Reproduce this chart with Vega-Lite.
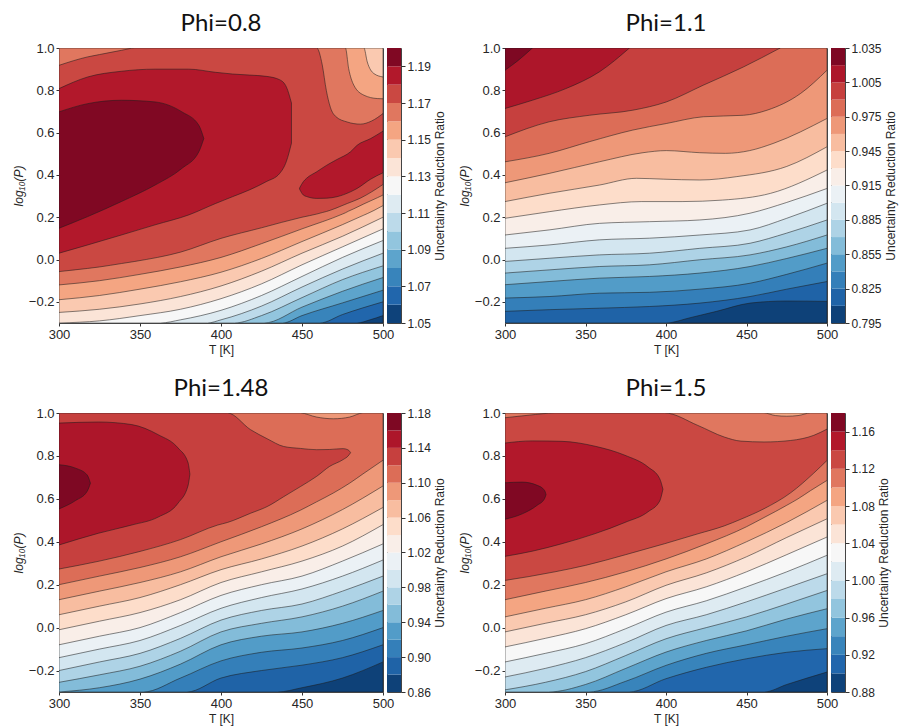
{
"$schema": "https://vega.github.io/schema/vega-lite/v6.json",
"autosize": {"type": "pad"},
"padding": {"left": 11, "top": 11, "right": 2, "bottom": 2},
"background": "white",
"config": {
  "view": {"stroke": "#444444", "strokeWidth": 1},
  "font": "Liberation Sans",
  "axis": {"labelFont": "Liberation Sans", "labelFontSize": 13, "labelColor": "#262626", "tickColor": "#333333", "tickSize": 3, "labelPadding": 2, "titleFont": "Liberation Sans", "titleFontSize": 12, "titleFontWeight": "normal", "titleColor": "#262626", "titlePadding": 3, "grid": false, "domain": false, "labelFlush": false, "labelOverlap": false, "labelBound": false},
  "title": {"font": "Lato", "fontSize": 24, "fontWeight": "normal", "color": "#111111"}
},
"datasets": {
"bands": [
{"phi":"0.8","lo":1.05,"hi":1.06},{"phi":"0.8","lo":1.06,"hi":1.07},{"phi":"0.8","lo":1.07,"hi":1.08},{"phi":"0.8","lo":1.08,"hi":1.09},{"phi":"0.8","lo":1.09,"hi":1.1},{"phi":"0.8","lo":1.1,"hi":1.11},{"phi":"0.8","lo":1.11,"hi":1.12},{"phi":"0.8","lo":1.12,"hi":1.13},{"phi":"0.8","lo":1.13,"hi":1.14},{"phi":"0.8","lo":1.14,"hi":1.15},{"phi":"0.8","lo":1.15,"hi":1.16},{"phi":"0.8","lo":1.16,"hi":1.17},{"phi":"0.8","lo":1.17,"hi":1.18},{"phi":"0.8","lo":1.18,"hi":1.19},{"phi":"0.8","lo":1.19,"hi":1.2},
{"phi":"1.1","lo":0.795,"hi":0.81},{"phi":"1.1","lo":0.81,"hi":0.825},{"phi":"1.1","lo":0.825,"hi":0.84},{"phi":"1.1","lo":0.84,"hi":0.855},{"phi":"1.1","lo":0.855,"hi":0.87},{"phi":"1.1","lo":0.87,"hi":0.885},{"phi":"1.1","lo":0.885,"hi":0.9},{"phi":"1.1","lo":0.9,"hi":0.915},{"phi":"1.1","lo":0.915,"hi":0.93},{"phi":"1.1","lo":0.93,"hi":0.945},{"phi":"1.1","lo":0.945,"hi":0.96},{"phi":"1.1","lo":0.96,"hi":0.975},{"phi":"1.1","lo":0.975,"hi":0.99},{"phi":"1.1","lo":0.99,"hi":1.005},{"phi":"1.1","lo":1.005,"hi":1.02},{"phi":"1.1","lo":1.02,"hi":1.035},
{"phi":"1.48","lo":0.86,"hi":0.88},{"phi":"1.48","lo":0.88,"hi":0.9},{"phi":"1.48","lo":0.9,"hi":0.92},{"phi":"1.48","lo":0.92,"hi":0.94},{"phi":"1.48","lo":0.94,"hi":0.96},{"phi":"1.48","lo":0.96,"hi":0.98},{"phi":"1.48","lo":0.98,"hi":1},{"phi":"1.48","lo":1,"hi":1.02},{"phi":"1.48","lo":1.02,"hi":1.04},{"phi":"1.48","lo":1.04,"hi":1.06},{"phi":"1.48","lo":1.06,"hi":1.08},{"phi":"1.48","lo":1.08,"hi":1.1},{"phi":"1.48","lo":1.1,"hi":1.12},{"phi":"1.48","lo":1.12,"hi":1.14},{"phi":"1.48","lo":1.14,"hi":1.16},{"phi":"1.48","lo":1.16,"hi":1.18},
{"phi":"1.5","lo":0.88,"hi":0.9},{"phi":"1.5","lo":0.9,"hi":0.92},{"phi":"1.5","lo":0.92,"hi":0.94},{"phi":"1.5","lo":0.94,"hi":0.96},{"phi":"1.5","lo":0.96,"hi":0.98},{"phi":"1.5","lo":0.98,"hi":1},{"phi":"1.5","lo":1,"hi":1.02},{"phi":"1.5","lo":1.02,"hi":1.04},{"phi":"1.5","lo":1.04,"hi":1.06},{"phi":"1.5","lo":1.06,"hi":1.08},{"phi":"1.5","lo":1.08,"hi":1.1},{"phi":"1.5","lo":1.1,"hi":1.12},{"phi":"1.5","lo":1.12,"hi":1.14},{"phi":"1.5","lo":1.14,"hi":1.16},{"phi":"1.5","lo":1.16,"hi":1.18}
],
"contours": [
{"phi":"0.8","lvl":1.05,"reg":"08a","T":300,"lo":-0.3,"hi":1},{"phi":"0.8","lvl":1.05,"reg":"08a","T":500,"lo":-0.3,"hi":1},
{"phi":"0.8","lvl":1.06,"reg":"08b","T":300,"lo":-0.3,"hi":1},{"phi":"0.8","lvl":1.06,"reg":"08b","T":484,"lo":-0.3,"hi":1},{"phi":"0.8","lvl":1.06,"reg":"08b","T":492,"lo":-0.285,"hi":1},{"phi":"0.8","lvl":1.06,"reg":"08b","T":500,"lo":-0.265,"hi":1},
{"phi":"0.8","lvl":1.07,"reg":"08c","T":300,"lo":-0.3,"hi":1},{"phi":"0.8","lvl":1.07,"reg":"08c","T":461,"lo":-0.3,"hi":1},{"phi":"0.8","lvl":1.07,"reg":"08c","T":475,"lo":-0.26,"hi":1},{"phi":"0.8","lvl":1.07,"reg":"08c","T":500,"lo":-0.2,"hi":1},
{"phi":"0.8","lvl":1.08,"reg":"08d","T":300,"lo":-0.3,"hi":1},{"phi":"0.8","lvl":1.08,"reg":"08d","T":438,"lo":-0.3,"hi":1},{"phi":"0.8","lvl":1.08,"reg":"08d","T":450,"lo":-0.265,"hi":1},{"phi":"0.8","lvl":1.08,"reg":"08d","T":475,"lo":-0.205,"hi":1},{"phi":"0.8","lvl":1.08,"reg":"08d","T":500,"lo":-0.145,"hi":1},
{"phi":"0.8","lvl":1.09,"reg":"08e","T":300,"lo":-0.3,"hi":1},{"phi":"0.8","lvl":1.09,"reg":"08e","T":426.6,"lo":-0.3,"hi":1},{"phi":"0.8","lvl":1.09,"reg":"08e","T":450,"lo":-0.225,"hi":1},{"phi":"0.8","lvl":1.09,"reg":"08e","T":475,"lo":-0.15,"hi":1},{"phi":"0.8","lvl":1.09,"reg":"08e","T":500,"lo":-0.085,"hi":1},
{"phi":"0.8","lvl":1.1,"reg":"08f","T":300,"lo":-0.3,"hi":1},{"phi":"0.8","lvl":1.1,"reg":"08f","T":408.3,"lo":-0.3,"hi":1},{"phi":"0.8","lvl":1.1,"reg":"08f","T":425,"lo":-0.265,"hi":1},{"phi":"0.8","lvl":1.1,"reg":"08f","T":450,"lo":-0.18,"hi":1},{"phi":"0.8","lvl":1.1,"reg":"08f","T":475,"lo":-0.095,"hi":1},{"phi":"0.8","lvl":1.1,"reg":"08f","T":500,"lo":-0.03,"hi":1},
{"phi":"0.8","lvl":1.11,"reg":"08g","T":300,"lo":-0.3,"hi":1},{"phi":"0.8","lvl":1.11,"reg":"08g","T":391.7,"lo":-0.3,"hi":1},{"phi":"0.8","lvl":1.11,"reg":"08g","T":400,"lo":-0.285,"hi":1},{"phi":"0.8","lvl":1.11,"reg":"08g","T":425,"lo":-0.22,"hi":1},{"phi":"0.8","lvl":1.11,"reg":"08g","T":450,"lo":-0.13,"hi":1},{"phi":"0.8","lvl":1.11,"reg":"08g","T":475,"lo":-0.045,"hi":1},{"phi":"0.8","lvl":1.11,"reg":"08g","T":500,"lo":0.03,"hi":1},
{"phi":"0.8","lvl":1.12,"reg":"08h","T":300,"lo":-0.3,"hi":1},{"phi":"0.8","lvl":1.12,"reg":"08h","T":362.5,"lo":-0.3,"hi":1},{"phi":"0.8","lvl":1.12,"reg":"08h","T":375,"lo":-0.285,"hi":1},{"phi":"0.8","lvl":1.12,"reg":"08h","T":400,"lo":-0.24,"hi":1},{"phi":"0.8","lvl":1.12,"reg":"08h","T":425,"lo":-0.17,"hi":1},{"phi":"0.8","lvl":1.12,"reg":"08h","T":450,"lo":-0.08,"hi":1},{"phi":"0.8","lvl":1.12,"reg":"08h","T":475,"lo":0.01,"hi":1},{"phi":"0.8","lvl":1.12,"reg":"08h","T":500,"lo":0.09,"hi":1},
{"phi":"0.8","lvl":1.13,"reg":"08i","T":300,"lo":-0.3,"hi":1},{"phi":"0.8","lvl":1.13,"reg":"08i","T":325,"lo":-0.29,"hi":1},{"phi":"0.8","lvl":1.13,"reg":"08i","T":350,"lo":-0.265,"hi":1},{"phi":"0.8","lvl":1.13,"reg":"08i","T":375,"lo":-0.235,"hi":1},{"phi":"0.8","lvl":1.13,"reg":"08i","T":400,"lo":-0.185,"hi":1},{"phi":"0.8","lvl":1.13,"reg":"08i","T":425,"lo":-0.115,"hi":1},{"phi":"0.8","lvl":1.13,"reg":"08i","T":450,"lo":-0.025,"hi":1},{"phi":"0.8","lvl":1.13,"reg":"08i","T":475,"lo":0.06,"hi":1},{"phi":"0.8","lvl":1.13,"reg":"08i","T":500,"lo":0.145,"hi":1},
{"phi":"0.8","lvl":1.14,"reg":"08j","T":300,"lo":-0.25,"hi":1},{"phi":"0.8","lvl":1.14,"reg":"08j","T":325,"lo":-0.235,"hi":1},{"phi":"0.8","lvl":1.14,"reg":"08j","T":350,"lo":-0.21,"hi":1},{"phi":"0.8","lvl":1.14,"reg":"08j","T":375,"lo":-0.175,"hi":1},{"phi":"0.8","lvl":1.14,"reg":"08j","T":400,"lo":-0.125,"hi":1},{"phi":"0.8","lvl":1.14,"reg":"08j","T":425,"lo":-0.055,"hi":1},{"phi":"0.8","lvl":1.14,"reg":"08j","T":450,"lo":0.03,"hi":1},{"phi":"0.8","lvl":1.14,"reg":"08j","T":475,"lo":0.11,"hi":1},{"phi":"0.8","lvl":1.14,"reg":"08j","T":500,"lo":0.2,"hi":1},
{"phi":"0.8","lvl":1.15,"reg":"08k","T":300,"lo":-0.19,"hi":1},{"phi":"0.8","lvl":1.15,"reg":"08k","T":325,"lo":-0.17,"hi":1},{"phi":"0.8","lvl":1.15,"reg":"08k","T":350,"lo":-0.14,"hi":1},{"phi":"0.8","lvl":1.15,"reg":"08k","T":375,"lo":-0.105,"hi":1},{"phi":"0.8","lvl":1.15,"reg":"08k","T":400,"lo":-0.06,"hi":1},{"phi":"0.8","lvl":1.15,"reg":"08k","T":425,"lo":0.005,"hi":1},{"phi":"0.8","lvl":1.15,"reg":"08k","T":450,"lo":0.085,"hi":1},{"phi":"0.8","lvl":1.15,"reg":"08k","T":475,"lo":0.165,"hi":1},{"phi":"0.8","lvl":1.15,"reg":"08k","T":488.2,"lo":0.21,"hi":1},{"phi":"0.8","lvl":1.15,"reg":"08k","T":490.3,"lo":0.217,"hi":0.934},{"phi":"0.8","lvl":1.15,"reg":"08k","T":494.4,"lo":0.232,"hi":0.879},{"phi":"0.8","lvl":1.15,"reg":"08k","T":500,"lo":0.255,"hi":0.863},
{"phi":"0.8","lvl":1.16,"reg":"08l","T":300,"lo":-0.12,"hi":1},{"phi":"0.8","lvl":1.16,"reg":"08l","T":325,"lo":-0.1,"hi":1},{"phi":"0.8","lvl":1.16,"reg":"08l","T":350,"lo":-0.07,"hi":1},{"phi":"0.8","lvl":1.16,"reg":"08l","T":375,"lo":-0.035,"hi":1},{"phi":"0.8","lvl":1.16,"reg":"08l","T":400,"lo":0.01,"hi":1},{"phi":"0.8","lvl":1.16,"reg":"08l","T":425,"lo":0.075,"hi":1},{"phi":"0.8","lvl":1.16,"reg":"08l","T":450,"lo":0.145,"hi":1},{"phi":"0.8","lvl":1.16,"reg":"08l","T":475,"lo":0.215,"hi":1},{"phi":"0.8","lvl":1.16,"reg":"08l","T":476.8,"lo":0.221,"hi":1},{"phi":"0.8","lvl":1.16,"reg":"08l","T":478.8,"lo":0.229,"hi":0.903},{"phi":"0.8","lvl":1.16,"reg":"08l","T":482,"lo":0.24,"hi":0.824},{"phi":"0.8","lvl":1.16,"reg":"08l","T":488.2,"lo":0.263,"hi":0.777},{"phi":"0.8","lvl":1.16,"reg":"08l","T":496.5,"lo":0.292,"hi":0.761},{"phi":"0.8","lvl":1.16,"reg":"08l","T":500,"lo":0.305,"hi":0.76},
{"phi":"0.8","lvl":1.17,"reg":"08m","T":300,"lo":-0.057,"hi":0.918},{"phi":"0.8","lvl":1.17,"reg":"08m","T":317.7,"lo":-0.042,"hi":0.958},{"phi":"0.8","lvl":1.17,"reg":"08m","T":325,"lo":-0.035,"hi":0.969},{"phi":"0.8","lvl":1.17,"reg":"08m","T":338.5,"lo":-0.019,"hi":0.989},{"phi":"0.8","lvl":1.17,"reg":"08m","T":346.8,"lo":-0.009,"hi":1},{"phi":"0.8","lvl":1.17,"reg":"08m","T":375,"lo":0.035,"hi":1},{"phi":"0.8","lvl":1.17,"reg":"08m","T":400,"lo":0.1,"hi":1},{"phi":"0.8","lvl":1.17,"reg":"08m","T":425,"lo":0.15,"hi":1},{"phi":"0.8","lvl":1.17,"reg":"08m","T":450,"lo":0.2,"hi":1},{"phi":"0.8","lvl":1.17,"reg":"08m","T":459.1,"lo":0.215,"hi":1},{"phi":"0.8","lvl":1.17,"reg":"08m","T":462.5,"lo":0.222,"hi":0.92},{"phi":"0.8","lvl":1.17,"reg":"08m","T":465,"lo":0.227,"hi":0.8},{"phi":"0.8","lvl":1.17,"reg":"08m","T":467.5,"lo":0.233,"hi":0.72},{"phi":"0.8","lvl":1.17,"reg":"08m","T":471,"lo":0.243,"hi":0.675},{"phi":"0.8","lvl":1.17,"reg":"08m","T":478,"lo":0.265,"hi":0.65},{"phi":"0.8","lvl":1.17,"reg":"08m","T":486,"lo":0.29,"hi":0.64},{"phi":"0.8","lvl":1.17,"reg":"08m","T":493,"lo":0.32,"hi":0.655},{"phi":"0.8","lvl":1.17,"reg":"08m","T":500,"lo":0.355,"hi":0.69},
{"phi":"0.8","lvl":1.18,"reg":"08n","T":300,"lo":0.03,"hi":0.808},{"phi":"0.8","lvl":1.18,"reg":"08n","T":317.7,"lo":0.069,"hi":0.863},{"phi":"0.8","lvl":1.18,"reg":"08n","T":338.5,"lo":0.116,"hi":0.89},{"phi":"0.8","lvl":1.18,"reg":"08n","T":359.3,"lo":0.164,"hi":0.9},{"phi":"0.8","lvl":1.18,"reg":"08n","T":380.1,"lo":0.211,"hi":0.9},{"phi":"0.8","lvl":1.18,"reg":"08n","T":396.7,"lo":0.265,"hi":0.885},{"phi":"0.8","lvl":1.18,"reg":"08n","T":407.1,"lo":0.297,"hi":0.877},{"phi":"0.8","lvl":1.18,"reg":"08n","T":417.5,"lo":0.329,"hi":0.872},{"phi":"0.8","lvl":1.18,"reg":"08n","T":427.9,"lo":0.368,"hi":0.866},{"phi":"0.8","lvl":1.18,"reg":"08n","T":436.2,"lo":0.407,"hi":0.85},{"phi":"0.8","lvl":1.18,"reg":"08n","T":440.4,"lo":0.465,"hi":0.815},{"phi":"0.8","lvl":1.18,"reg":"08n","T":443.5,"lo":0.55,"hi":0.74},
{"phi":"0.8","lvl":1.18,"reg":"08o","T":448.5,"lo":0.333,"hi":0.338},{"phi":"0.8","lvl":1.18,"reg":"08o","T":450.8,"lo":0.305,"hi":0.368},{"phi":"0.8","lvl":1.18,"reg":"08o","T":452.8,"lo":0.298,"hi":0.384},{"phi":"0.8","lvl":1.18,"reg":"08o","T":459.1,"lo":0.289,"hi":0.415},{"phi":"0.8","lvl":1.18,"reg":"08o","T":465.3,"lo":0.29,"hi":0.446},{"phi":"0.8","lvl":1.18,"reg":"08o","T":471.6,"lo":0.297,"hi":0.473},{"phi":"0.8","lvl":1.18,"reg":"08o","T":479.9,"lo":0.32,"hi":0.509},{"phi":"0.8","lvl":1.18,"reg":"08o","T":484,"lo":0.336,"hi":0.54},{"phi":"0.8","lvl":1.18,"reg":"08o","T":492.4,"lo":0.38,"hi":0.572},{"phi":"0.8","lvl":1.18,"reg":"08o","T":500,"lo":0.41,"hi":0.607},
{"phi":"0.8","lvl":1.19,"reg":"08p","T":300,"lo":0.148,"hi":0.698},{"phi":"0.8","lvl":1.19,"reg":"08p","T":317.7,"lo":0.203,"hi":0.737},{"phi":"0.8","lvl":1.19,"reg":"08p","T":338.5,"lo":0.274,"hi":0.753},{"phi":"0.8","lvl":1.19,"reg":"08p","T":359.3,"lo":0.352,"hi":0.745},{"phi":"0.8","lvl":1.19,"reg":"08p","T":375.9,"lo":0.431,"hi":0.698},{"phi":"0.8","lvl":1.19,"reg":"08p","T":386.3,"lo":0.509,"hi":0.635},{"phi":"0.8","lvl":1.19,"reg":"08p","T":389.4,"lo":0.572,"hi":0.572},

{"phi":"1.1","lvl":0.795,"reg":"11a","T":300,"lo":-0.3,"hi":1},{"phi":"1.1","lvl":0.795,"reg":"11a","T":500,"lo":-0.3,"hi":1},
{"phi":"1.1","lvl":0.81,"reg":"11b","T":300,"lo":-0.3,"hi":1},{"phi":"1.1","lvl":0.81,"reg":"11b","T":400,"lo":-0.3,"hi":1},{"phi":"1.1","lvl":0.81,"reg":"11b","T":415,"lo":-0.275,"hi":1},{"phi":"1.1","lvl":0.81,"reg":"11b","T":431.4,"lo":-0.245,"hi":1},{"phi":"1.1","lvl":0.81,"reg":"11b","T":452.2,"lo":-0.206,"hi":1},{"phi":"1.1","lvl":0.81,"reg":"11b","T":475,"lo":-0.196,"hi":1},{"phi":"1.1","lvl":0.81,"reg":"11b","T":500,"lo":-0.198,"hi":1},
{"phi":"1.1","lvl":0.825,"reg":"11c","T":300,"lo":-0.245,"hi":1},{"phi":"1.1","lvl":0.825,"reg":"11c","T":327.4,"lo":-0.237,"hi":1},{"phi":"1.1","lvl":0.825,"reg":"11c","T":358.6,"lo":-0.23,"hi":1},{"phi":"1.1","lvl":0.825,"reg":"11c","T":389.8,"lo":-0.222,"hi":1},{"phi":"1.1","lvl":0.825,"reg":"11c","T":421,"lo":-0.206,"hi":1},{"phi":"1.1","lvl":0.825,"reg":"11c","T":452.2,"lo":-0.175,"hi":1},{"phi":"1.1","lvl":0.825,"reg":"11c","T":475,"lo":-0.14,"hi":1},{"phi":"1.1","lvl":0.825,"reg":"11c","T":500,"lo":-0.104,"hi":1},
{"phi":"1.1","lvl":0.84,"reg":"11d","T":300,"lo":-0.182,"hi":1},{"phi":"1.1","lvl":0.84,"reg":"11d","T":327.4,"lo":-0.175,"hi":1},{"phi":"1.1","lvl":0.84,"reg":"11d","T":358.6,"lo":-0.159,"hi":1},{"phi":"1.1","lvl":0.84,"reg":"11d","T":389.8,"lo":-0.155,"hi":1},{"phi":"1.1","lvl":0.84,"reg":"11d","T":421,"lo":-0.14,"hi":1},{"phi":"1.1","lvl":0.84,"reg":"11d","T":452.2,"lo":-0.112,"hi":1},{"phi":"1.1","lvl":0.84,"reg":"11d","T":475,"lo":-0.07,"hi":1},{"phi":"1.1","lvl":0.84,"reg":"11d","T":500,"lo":-0.017,"hi":1},
{"phi":"1.1","lvl":0.855,"reg":"11e","T":300,"lo":-0.119,"hi":1},{"phi":"1.1","lvl":0.855,"reg":"11e","T":327.4,"lo":-0.104,"hi":1},{"phi":"1.1","lvl":0.855,"reg":"11e","T":358.6,"lo":-0.088,"hi":1},{"phi":"1.1","lvl":0.855,"reg":"11e","T":389.8,"lo":-0.08,"hi":1},{"phi":"1.1","lvl":0.855,"reg":"11e","T":421,"lo":-0.064,"hi":1},{"phi":"1.1","lvl":0.855,"reg":"11e","T":452.2,"lo":-0.033,"hi":1},{"phi":"1.1","lvl":0.855,"reg":"11e","T":475,"lo":0.005,"hi":1},{"phi":"1.1","lvl":0.855,"reg":"11e","T":500,"lo":0.053,"hi":1},
{"phi":"1.1","lvl":0.87,"reg":"11f","T":300,"lo":-0.064,"hi":1},{"phi":"1.1","lvl":0.87,"reg":"11f","T":327.4,"lo":-0.049,"hi":1},{"phi":"1.1","lvl":0.87,"reg":"11f","T":358.6,"lo":-0.033,"hi":1},{"phi":"1.1","lvl":0.87,"reg":"11f","T":389.8,"lo":-0.025,"hi":1},{"phi":"1.1","lvl":0.87,"reg":"11f","T":421,"lo":-0.001,"hi":1},{"phi":"1.1","lvl":0.87,"reg":"11f","T":452.2,"lo":0.022,"hi":1},{"phi":"1.1","lvl":0.87,"reg":"11f","T":475,"lo":0.06,"hi":1},{"phi":"1.1","lvl":0.87,"reg":"11f","T":500,"lo":0.116,"hi":1},
{"phi":"1.1","lvl":0.885,"reg":"11g","T":300,"lo":-0.009,"hi":1},{"phi":"1.1","lvl":0.885,"reg":"11g","T":327.4,"lo":0.006,"hi":1},{"phi":"1.1","lvl":0.885,"reg":"11g","T":358.6,"lo":0.022,"hi":1},{"phi":"1.1","lvl":0.885,"reg":"11g","T":389.8,"lo":0.03,"hi":1},{"phi":"1.1","lvl":0.885,"reg":"11g","T":421,"lo":0.053,"hi":1},{"phi":"1.1","lvl":0.885,"reg":"11g","T":452.2,"lo":0.077,"hi":1},{"phi":"1.1","lvl":0.885,"reg":"11g","T":475,"lo":0.125,"hi":1},{"phi":"1.1","lvl":0.885,"reg":"11g","T":500,"lo":0.187,"hi":1},
{"phi":"1.1","lvl":0.9,"reg":"11h","T":300,"lo":0.053,"hi":1},{"phi":"1.1","lvl":0.9,"reg":"11h","T":327.4,"lo":0.069,"hi":1},{"phi":"1.1","lvl":0.9,"reg":"11h","T":358.6,"lo":0.093,"hi":1},{"phi":"1.1","lvl":0.9,"reg":"11h","T":389.8,"lo":0.101,"hi":1},{"phi":"1.1","lvl":0.9,"reg":"11h","T":421,"lo":0.116,"hi":1},{"phi":"1.1","lvl":0.9,"reg":"11h","T":452.2,"lo":0.14,"hi":1},{"phi":"1.1","lvl":0.9,"reg":"11h","T":475,"lo":0.195,"hi":1},{"phi":"1.1","lvl":0.9,"reg":"11h","T":500,"lo":0.266,"hi":1},
{"phi":"1.1","lvl":0.915,"reg":"11i","T":300,"lo":0.116,"hi":1},{"phi":"1.1","lvl":0.915,"reg":"11i","T":327.4,"lo":0.14,"hi":1},{"phi":"1.1","lvl":0.915,"reg":"11i","T":358.6,"lo":0.171,"hi":1},{"phi":"1.1","lvl":0.915,"reg":"11i","T":389.8,"lo":0.179,"hi":1},{"phi":"1.1","lvl":0.915,"reg":"11i","T":421,"lo":0.187,"hi":1},{"phi":"1.1","lvl":0.915,"reg":"11i","T":452.2,"lo":0.219,"hi":1},{"phi":"1.1","lvl":0.915,"reg":"11i","T":475,"lo":0.27,"hi":1},{"phi":"1.1","lvl":0.915,"reg":"11i","T":500,"lo":0.336,"hi":1},
{"phi":"1.1","lvl":0.93,"reg":"11j","T":300,"lo":0.195,"hi":1},{"phi":"1.1","lvl":0.93,"reg":"11j","T":327.4,"lo":0.226,"hi":1},{"phi":"1.1","lvl":0.93,"reg":"11j","T":358.6,"lo":0.258,"hi":1},{"phi":"1.1","lvl":0.93,"reg":"11j","T":385,"lo":0.274,"hi":1},{"phi":"1.1","lvl":0.93,"reg":"11j","T":410,"lo":0.274,"hi":1},{"phi":"1.1","lvl":0.93,"reg":"11j","T":435,"lo":0.281,"hi":1},{"phi":"1.1","lvl":0.93,"reg":"11j","T":465,"lo":0.313,"hi":1},{"phi":"1.1","lvl":0.93,"reg":"11j","T":500,"lo":0.423,"hi":1},
{"phi":"1.1","lvl":0.945,"reg":"11k","T":300,"lo":0.274,"hi":1},{"phi":"1.1","lvl":0.945,"reg":"11k","T":327.4,"lo":0.313,"hi":1},{"phi":"1.1","lvl":0.945,"reg":"11k","T":358.6,"lo":0.352,"hi":1},{"phi":"1.1","lvl":0.945,"reg":"11k","T":381.7,"lo":0.384,"hi":1},{"phi":"1.1","lvl":0.945,"reg":"11k","T":398.3,"lo":0.38,"hi":1},{"phi":"1.1","lvl":0.945,"reg":"11k","T":421,"lo":0.376,"hi":1},{"phi":"1.1","lvl":0.945,"reg":"11k","T":444,"lo":0.392,"hi":1},{"phi":"1.1","lvl":0.945,"reg":"11k","T":475,"lo":0.44,"hi":1},{"phi":"1.1","lvl":0.945,"reg":"11k","T":500,"lo":0.533,"hi":1},
{"phi":"1.1","lvl":0.96,"reg":"11l","T":300,"lo":0.363,"hi":1},{"phi":"1.1","lvl":0.96,"reg":"11l","T":327.4,"lo":0.407,"hi":1},{"phi":"1.1","lvl":0.96,"reg":"11l","T":358.6,"lo":0.462,"hi":1},{"phi":"1.1","lvl":0.96,"reg":"11l","T":385.7,"lo":0.505,"hi":1},{"phi":"1.1","lvl":0.96,"reg":"11l","T":400.2,"lo":0.515,"hi":1},{"phi":"1.1","lvl":0.96,"reg":"11l","T":421,"lo":0.505,"hi":1},{"phi":"1.1","lvl":0.96,"reg":"11l","T":437,"lo":0.502,"hi":1},{"phi":"1.1","lvl":0.96,"reg":"11l","T":452,"lo":0.515,"hi":1},{"phi":"1.1","lvl":0.96,"reg":"11l","T":467,"lo":0.55,"hi":1},{"phi":"1.1","lvl":0.96,"reg":"11l","T":500,"lo":0.667,"hi":1},
{"phi":"1.1","lvl":0.975,"reg":"11m","T":300,"lo":0.462,"hi":1},{"phi":"1.1","lvl":0.975,"reg":"11m","T":327.4,"lo":0.502,"hi":1},{"phi":"1.1","lvl":0.975,"reg":"11m","T":352.4,"lo":0.557,"hi":1},{"phi":"1.1","lvl":0.975,"reg":"11m","T":379.4,"lo":0.612,"hi":1},{"phi":"1.1","lvl":0.975,"reg":"11m","T":400.2,"lo":0.643,"hi":1},{"phi":"1.1","lvl":0.975,"reg":"11m","T":423.3,"lo":0.675,"hi":1},{"phi":"1.1","lvl":0.975,"reg":"11m","T":448.2,"lo":0.682,"hi":1},{"phi":"1.1","lvl":0.975,"reg":"11m","T":462.8,"lo":0.706,"hi":1},{"phi":"1.1","lvl":0.975,"reg":"11m","T":483.6,"lo":0.785,"hi":1},{"phi":"1.1","lvl":0.975,"reg":"11m","T":500,"lo":0.895,"hi":1},
{"phi":"1.1","lvl":0.99,"reg":"11n","T":300,"lo":0.58,"hi":1},{"phi":"1.1","lvl":0.99,"reg":"11n","T":327.4,"lo":0.651,"hi":1},{"phi":"1.1","lvl":0.99,"reg":"11n","T":352.4,"lo":0.682,"hi":1},{"phi":"1.1","lvl":0.99,"reg":"11n","T":379.4,"lo":0.706,"hi":1},{"phi":"1.1","lvl":0.99,"reg":"11n","T":400.2,"lo":0.745,"hi":1},{"phi":"1.1","lvl":0.99,"reg":"11n","T":423.1,"lo":0.824,"hi":1},{"phi":"1.1","lvl":0.99,"reg":"11n","T":448,"lo":0.91,"hi":1},{"phi":"1.1","lvl":0.99,"reg":"11n","T":470.9,"lo":1,"hi":1},
{"phi":"1.1","lvl":1.005,"reg":"11o","T":300,"lo":0.714,"hi":1},{"phi":"1.1","lvl":1.005,"reg":"11o","T":317,"lo":0.753,"hi":1},{"phi":"1.1","lvl":1.005,"reg":"11o","T":337.8,"lo":0.808,"hi":1},{"phi":"1.1","lvl":1.005,"reg":"11o","T":358.6,"lo":0.887,"hi":1},{"phi":"1.1","lvl":1.005,"reg":"11o","T":377.3,"lo":1,"hi":1},
{"phi":"1.1","lvl":1.02,"reg":"11p","T":300,"lo":0.895,"hi":1},{"phi":"1.1","lvl":1.02,"reg":"11p","T":308,"lo":0.94,"hi":1},{"phi":"1.1","lvl":1.02,"reg":"11p","T":317,"lo":1,"hi":1},

{"phi":"1.48","lvl":0.86,"reg":"48a","T":300,"lo":-0.3,"hi":1},{"phi":"1.48","lvl":0.86,"reg":"48a","T":500,"lo":-0.3,"hi":1},
{"phi":"1.48","lvl":0.88,"reg":"48b","T":300,"lo":-0.3,"hi":1},{"phi":"1.48","lvl":0.88,"reg":"48b","T":435,"lo":-0.3,"hi":1},{"phi":"1.48","lvl":0.88,"reg":"48b","T":450,"lo":-0.28,"hi":1},{"phi":"1.48","lvl":0.88,"reg":"48b","T":475,"lo":-0.235,"hi":1},{"phi":"1.48","lvl":0.88,"reg":"48b","T":500,"lo":-0.16,"hi":1},
{"phi":"1.48","lvl":0.9,"reg":"48c","T":300,"lo":-0.3,"hi":1},{"phi":"1.48","lvl":0.9,"reg":"48c","T":379,"lo":-0.3,"hi":1},{"phi":"1.48","lvl":0.9,"reg":"48c","T":400,"lo":-0.235,"hi":1},{"phi":"1.48","lvl":0.9,"reg":"48c","T":425,"lo":-0.2,"hi":1},{"phi":"1.48","lvl":0.9,"reg":"48c","T":450,"lo":-0.175,"hi":1},{"phi":"1.48","lvl":0.9,"reg":"48c","T":475,"lo":-0.14,"hi":1},{"phi":"1.48","lvl":0.9,"reg":"48c","T":500,"lo":-0.08,"hi":1},
{"phi":"1.48","lvl":0.92,"reg":"48d","T":300,"lo":-0.3,"hi":1},{"phi":"1.48","lvl":0.92,"reg":"48d","T":352,"lo":-0.3,"hi":1},{"phi":"1.48","lvl":0.92,"reg":"48d","T":375,"lo":-0.235,"hi":1},{"phi":"1.48","lvl":0.92,"reg":"48d","T":400,"lo":-0.155,"hi":1},{"phi":"1.48","lvl":0.92,"reg":"48d","T":425,"lo":-0.115,"hi":1},{"phi":"1.48","lvl":0.92,"reg":"48d","T":450,"lo":-0.095,"hi":1},{"phi":"1.48","lvl":0.92,"reg":"48d","T":475,"lo":-0.06,"hi":1},{"phi":"1.48","lvl":0.92,"reg":"48d","T":500,"lo":0,"hi":1},
{"phi":"1.48","lvl":0.94,"reg":"48e","T":300,"lo":-0.3,"hi":1},{"phi":"1.48","lvl":0.94,"reg":"48e","T":325,"lo":-0.28,"hi":1},{"phi":"1.48","lvl":0.94,"reg":"48e","T":350,"lo":-0.24,"hi":1},{"phi":"1.48","lvl":0.94,"reg":"48e","T":375,"lo":-0.17,"hi":1},{"phi":"1.48","lvl":0.94,"reg":"48e","T":400,"lo":-0.08,"hi":1},{"phi":"1.48","lvl":0.94,"reg":"48e","T":425,"lo":-0.04,"hi":1},{"phi":"1.48","lvl":0.94,"reg":"48e","T":450,"lo":-0.02,"hi":1},{"phi":"1.48","lvl":0.94,"reg":"48e","T":475,"lo":0.02,"hi":1},{"phi":"1.48","lvl":0.94,"reg":"48e","T":500,"lo":0.08,"hi":1},
{"phi":"1.48","lvl":0.96,"reg":"48f","T":300,"lo":-0.255,"hi":1},{"phi":"1.48","lvl":0.96,"reg":"48f","T":325,"lo":-0.22,"hi":1},{"phi":"1.48","lvl":0.96,"reg":"48f","T":350,"lo":-0.18,"hi":1},{"phi":"1.48","lvl":0.96,"reg":"48f","T":375,"lo":-0.11,"hi":1},{"phi":"1.48","lvl":0.96,"reg":"48f","T":400,"lo":-0.02,"hi":1},{"phi":"1.48","lvl":0.96,"reg":"48f","T":425,"lo":0.02,"hi":1},{"phi":"1.48","lvl":0.96,"reg":"48f","T":450,"lo":0.05,"hi":1},{"phi":"1.48","lvl":0.96,"reg":"48f","T":475,"lo":0.1,"hi":1},{"phi":"1.48","lvl":0.96,"reg":"48f","T":500,"lo":0.17,"hi":1},
{"phi":"1.48","lvl":0.98,"reg":"48g","T":300,"lo":-0.2,"hi":1},{"phi":"1.48","lvl":0.98,"reg":"48g","T":325,"lo":-0.16,"hi":1},{"phi":"1.48","lvl":0.98,"reg":"48g","T":350,"lo":-0.12,"hi":1},{"phi":"1.48","lvl":0.98,"reg":"48g","T":375,"lo":-0.05,"hi":1},{"phi":"1.48","lvl":0.98,"reg":"48g","T":400,"lo":0.035,"hi":1},{"phi":"1.48","lvl":0.98,"reg":"48g","T":425,"lo":0.08,"hi":1},{"phi":"1.48","lvl":0.98,"reg":"48g","T":450,"lo":0.11,"hi":1},{"phi":"1.48","lvl":0.98,"reg":"48g","T":475,"lo":0.17,"hi":1},{"phi":"1.48","lvl":0.98,"reg":"48g","T":500,"lo":0.24,"hi":1},
{"phi":"1.48","lvl":1,"reg":"48h","T":300,"lo":-0.14,"hi":1},{"phi":"1.48","lvl":1,"reg":"48h","T":325,"lo":-0.1,"hi":1},{"phi":"1.48","lvl":1,"reg":"48h","T":350,"lo":-0.06,"hi":1},{"phi":"1.48","lvl":1,"reg":"48h","T":375,"lo":0.01,"hi":1},{"phi":"1.48","lvl":1,"reg":"48h","T":400,"lo":0.09,"hi":1},{"phi":"1.48","lvl":1,"reg":"48h","T":425,"lo":0.14,"hi":1},{"phi":"1.48","lvl":1,"reg":"48h","T":450,"lo":0.18,"hi":1},{"phi":"1.48","lvl":1,"reg":"48h","T":475,"lo":0.24,"hi":1},{"phi":"1.48","lvl":1,"reg":"48h","T":500,"lo":0.315,"hi":1},
{"phi":"1.48","lvl":1.02,"reg":"48i","T":300,"lo":-0.08,"hi":1},{"phi":"1.48","lvl":1.02,"reg":"48i","T":325,"lo":-0.04,"hi":1},{"phi":"1.48","lvl":1.02,"reg":"48i","T":350,"lo":0,"hi":1},{"phi":"1.48","lvl":1.02,"reg":"48i","T":375,"lo":0.07,"hi":1},{"phi":"1.48","lvl":1.02,"reg":"48i","T":400,"lo":0.15,"hi":1},{"phi":"1.48","lvl":1.02,"reg":"48i","T":425,"lo":0.2,"hi":1},{"phi":"1.48","lvl":1.02,"reg":"48i","T":450,"lo":0.24,"hi":1},{"phi":"1.48","lvl":1.02,"reg":"48i","T":475,"lo":0.31,"hi":1},{"phi":"1.48","lvl":1.02,"reg":"48i","T":500,"lo":0.39,"hi":1},
{"phi":"1.48","lvl":1.04,"reg":"48j","T":300,"lo":-0.01,"hi":1},{"phi":"1.48","lvl":1.04,"reg":"48j","T":325,"lo":0.03,"hi":1},{"phi":"1.48","lvl":1.04,"reg":"48j","T":350,"lo":0.07,"hi":1},{"phi":"1.48","lvl":1.04,"reg":"48j","T":375,"lo":0.13,"hi":1},{"phi":"1.48","lvl":1.04,"reg":"48j","T":400,"lo":0.21,"hi":1},{"phi":"1.48","lvl":1.04,"reg":"48j","T":425,"lo":0.26,"hi":1},{"phi":"1.48","lvl":1.04,"reg":"48j","T":450,"lo":0.31,"hi":1},{"phi":"1.48","lvl":1.04,"reg":"48j","T":475,"lo":0.38,"hi":1},{"phi":"1.48","lvl":1.04,"reg":"48j","T":500,"lo":0.48,"hi":1},
{"phi":"1.48","lvl":1.06,"reg":"48k","T":300,"lo":0.06,"hi":1},{"phi":"1.48","lvl":1.06,"reg":"48k","T":325,"lo":0.1,"hi":1},{"phi":"1.48","lvl":1.06,"reg":"48k","T":350,"lo":0.14,"hi":1},{"phi":"1.48","lvl":1.06,"reg":"48k","T":375,"lo":0.2,"hi":1},{"phi":"1.48","lvl":1.06,"reg":"48k","T":400,"lo":0.27,"hi":1},{"phi":"1.48","lvl":1.06,"reg":"48k","T":425,"lo":0.32,"hi":1},{"phi":"1.48","lvl":1.06,"reg":"48k","T":450,"lo":0.38,"hi":1},{"phi":"1.48","lvl":1.06,"reg":"48k","T":475,"lo":0.46,"hi":1},{"phi":"1.48","lvl":1.06,"reg":"48k","T":500,"lo":0.56,"hi":1},
{"phi":"1.48","lvl":1.08,"reg":"48l","T":300,"lo":0.13,"hi":1},{"phi":"1.48","lvl":1.08,"reg":"48l","T":325,"lo":0.17,"hi":1},{"phi":"1.48","lvl":1.08,"reg":"48l","T":350,"lo":0.21,"hi":1},{"phi":"1.48","lvl":1.08,"reg":"48l","T":375,"lo":0.26,"hi":1},{"phi":"1.48","lvl":1.08,"reg":"48l","T":400,"lo":0.33,"hi":1},{"phi":"1.48","lvl":1.08,"reg":"48l","T":425,"lo":0.39,"hi":1},{"phi":"1.48","lvl":1.08,"reg":"48l","T":450,"lo":0.46,"hi":1},{"phi":"1.48","lvl":1.08,"reg":"48l","T":475,"lo":0.55,"hi":1},{"phi":"1.48","lvl":1.08,"reg":"48l","T":500,"lo":0.66,"hi":1},
{"phi":"1.48","lvl":1.1,"reg":"48m","T":300,"lo":0.2,"hi":1},{"phi":"1.48","lvl":1.1,"reg":"48m","T":325,"lo":0.24,"hi":1},{"phi":"1.48","lvl":1.1,"reg":"48m","T":350,"lo":0.28,"hi":1},{"phi":"1.48","lvl":1.1,"reg":"48m","T":375,"lo":0.33,"hi":1},{"phi":"1.48","lvl":1.1,"reg":"48m","T":400,"lo":0.4,"hi":1},{"phi":"1.48","lvl":1.1,"reg":"48m","T":425,"lo":0.47,"hi":1},{"phi":"1.48","lvl":1.1,"reg":"48m","T":449,"lo":0.547,"hi":1},{"phi":"1.48","lvl":1.1,"reg":"48m","T":459,"lo":0.586,"hi":0.981},{"phi":"1.48","lvl":1.1,"reg":"48m","T":469.3,"lo":0.627,"hi":0.973},{"phi":"1.48","lvl":1.1,"reg":"48m","T":479.4,"lo":0.673,"hi":0.981},{"phi":"1.48","lvl":1.1,"reg":"48m","T":487.6,"lo":0.716,"hi":1},{"phi":"1.48","lvl":1.1,"reg":"48m","T":500,"lo":0.78,"hi":1},
{"phi":"1.48","lvl":1.12,"reg":"48n","T":300,"lo":0.273,"hi":1},{"phi":"1.48","lvl":1.12,"reg":"48n","T":325,"lo":0.31,"hi":1},{"phi":"1.48","lvl":1.12,"reg":"48n","T":350,"lo":0.355,"hi":1},{"phi":"1.48","lvl":1.12,"reg":"48n","T":375,"lo":0.41,"hi":1},{"phi":"1.48","lvl":1.12,"reg":"48n","T":398,"lo":0.478,"hi":1},{"phi":"1.48","lvl":1.12,"reg":"48n","T":404,"lo":0.49,"hi":1},{"phi":"1.48","lvl":1.12,"reg":"48n","T":418.3,"lo":0.533,"hi":0.922},{"phi":"1.48","lvl":1.12,"reg":"48n","T":428.5,"lo":0.564,"hi":0.88},{"phi":"1.48","lvl":1.12,"reg":"48n","T":438.7,"lo":0.61,"hi":0.844},{"phi":"1.48","lvl":1.12,"reg":"48n","T":449,"lo":0.657,"hi":0.835},{"phi":"1.48","lvl":1.12,"reg":"48n","T":459.1,"lo":0.705,"hi":0.829},{"phi":"1.48","lvl":1.12,"reg":"48n","T":467,"lo":0.751,"hi":0.83},{"phi":"1.48","lvl":1.12,"reg":"48n","T":475.4,"lo":0.783,"hi":0.834},{"phi":"1.48","lvl":1.12,"reg":"48n","T":478.5,"lo":0.8,"hi":0.828},{"phi":"1.48","lvl":1.12,"reg":"48n","T":480,"lo":0.815,"hi":0.815},
{"phi":"1.48","lvl":1.14,"reg":"48o","T":300,"lo":0.385,"hi":0.953},{"phi":"1.48","lvl":1.14,"reg":"48o","T":324.5,"lo":0.44,"hi":0.958},{"phi":"1.48","lvl":1.14,"reg":"48o","T":344.9,"lo":0.478,"hi":0.946},{"phi":"1.48","lvl":1.14,"reg":"48o","T":361.2,"lo":0.515,"hi":0.899},{"phi":"1.48","lvl":1.14,"reg":"48o","T":373.5,"lo":0.58,"hi":0.837},{"phi":"1.48","lvl":1.14,"reg":"48o","T":379.6,"lo":0.66,"hi":0.77},{"phi":"1.48","lvl":1.14,"reg":"48o","T":380.8,"lo":0.715,"hi":0.715},
{"phi":"1.48","lvl":1.16,"reg":"48p","T":300,"lo":0.553,"hi":0.759},{"phi":"1.48","lvl":1.16,"reg":"48p","T":310.2,"lo":0.592,"hi":0.743},{"phi":"1.48","lvl":1.16,"reg":"48p","T":317.3,"lo":0.634,"hi":0.712},{"phi":"1.48","lvl":1.16,"reg":"48p","T":319.4,"lo":0.673,"hi":0.673},

{"phi":"1.5","lvl":0.88,"reg":"50a","T":300,"lo":-0.3,"hi":1},{"phi":"1.5","lvl":0.88,"reg":"50a","T":500,"lo":-0.3,"hi":1},
{"phi":"1.5","lvl":0.9,"reg":"50b","T":300,"lo":-0.3,"hi":1},{"phi":"1.5","lvl":0.9,"reg":"50b","T":461,"lo":-0.3,"hi":1},{"phi":"1.5","lvl":0.9,"reg":"50b","T":475,"lo":-0.265,"hi":1},{"phi":"1.5","lvl":0.9,"reg":"50b","T":500,"lo":-0.207,"hi":1},
{"phi":"1.5","lvl":0.92,"reg":"50c","T":300,"lo":-0.3,"hi":1},{"phi":"1.5","lvl":0.92,"reg":"50c","T":377,"lo":-0.3,"hi":1},{"phi":"1.5","lvl":0.92,"reg":"50c","T":400,"lo":-0.238,"hi":1},{"phi":"1.5","lvl":0.92,"reg":"50c","T":425,"lo":-0.185,"hi":1},{"phi":"1.5","lvl":0.92,"reg":"50c","T":450,"lo":-0.145,"hi":1},{"phi":"1.5","lvl":0.92,"reg":"50c","T":475,"lo":-0.115,"hi":1},{"phi":"1.5","lvl":0.92,"reg":"50c","T":500,"lo":-0.098,"hi":1},
{"phi":"1.5","lvl":0.94,"reg":"50d","T":300,"lo":-0.3,"hi":1},{"phi":"1.5","lvl":0.94,"reg":"50d","T":352,"lo":-0.3,"hi":1},{"phi":"1.5","lvl":0.94,"reg":"50d","T":375,"lo":-0.25,"hi":1},{"phi":"1.5","lvl":0.94,"reg":"50d","T":400,"lo":-0.176,"hi":1},{"phi":"1.5","lvl":0.94,"reg":"50d","T":425,"lo":-0.12,"hi":1},{"phi":"1.5","lvl":0.94,"reg":"50d","T":450,"lo":-0.08,"hi":1},{"phi":"1.5","lvl":0.94,"reg":"50d","T":475,"lo":-0.04,"hi":1},{"phi":"1.5","lvl":0.94,"reg":"50d","T":500,"lo":-0.005,"hi":1},
{"phi":"1.5","lvl":0.96,"reg":"50e","T":300,"lo":-0.3,"hi":1},{"phi":"1.5","lvl":0.96,"reg":"50e","T":327,"lo":-0.3,"hi":1},{"phi":"1.5","lvl":0.96,"reg":"50e","T":350,"lo":-0.265,"hi":1},{"phi":"1.5","lvl":0.96,"reg":"50e","T":375,"lo":-0.19,"hi":1},{"phi":"1.5","lvl":0.96,"reg":"50e","T":400,"lo":-0.114,"hi":1},{"phi":"1.5","lvl":0.96,"reg":"50e","T":425,"lo":-0.06,"hi":1},{"phi":"1.5","lvl":0.96,"reg":"50e","T":450,"lo":-0.015,"hi":1},{"phi":"1.5","lvl":0.96,"reg":"50e","T":475,"lo":0.04,"hi":1},{"phi":"1.5","lvl":0.96,"reg":"50e","T":500,"lo":0.088,"hi":1},
{"phi":"1.5","lvl":0.98,"reg":"50f","T":300,"lo":-0.29,"hi":1},{"phi":"1.5","lvl":0.98,"reg":"50f","T":325,"lo":-0.255,"hi":1},{"phi":"1.5","lvl":0.98,"reg":"50f","T":350,"lo":-0.205,"hi":1},{"phi":"1.5","lvl":0.98,"reg":"50f","T":375,"lo":-0.13,"hi":1},{"phi":"1.5","lvl":0.98,"reg":"50f","T":400,"lo":-0.052,"hi":1},{"phi":"1.5","lvl":0.98,"reg":"50f","T":425,"lo":0,"hi":1},{"phi":"1.5","lvl":0.98,"reg":"50f","T":450,"lo":0.05,"hi":1},{"phi":"1.5","lvl":0.98,"reg":"50f","T":475,"lo":0.11,"hi":1},{"phi":"1.5","lvl":0.98,"reg":"50f","T":500,"lo":0.173,"hi":1},
{"phi":"1.5","lvl":1,"reg":"50g","T":300,"lo":-0.23,"hi":1},{"phi":"1.5","lvl":1,"reg":"50g","T":325,"lo":-0.19,"hi":1},{"phi":"1.5","lvl":1,"reg":"50g","T":350,"lo":-0.14,"hi":1},{"phi":"1.5","lvl":1,"reg":"50g","T":375,"lo":-0.07,"hi":1},{"phi":"1.5","lvl":1,"reg":"50g","T":400,"lo":0.01,"hi":1},{"phi":"1.5","lvl":1,"reg":"50g","T":425,"lo":0.06,"hi":1},{"phi":"1.5","lvl":1,"reg":"50g","T":450,"lo":0.12,"hi":1},{"phi":"1.5","lvl":1,"reg":"50g","T":475,"lo":0.185,"hi":1},{"phi":"1.5","lvl":1,"reg":"50g","T":500,"lo":0.251,"hi":1},
{"phi":"1.5","lvl":1.02,"reg":"50h","T":300,"lo":-0.16,"hi":1},{"phi":"1.5","lvl":1.02,"reg":"50h","T":325,"lo":-0.12,"hi":1},{"phi":"1.5","lvl":1.02,"reg":"50h","T":350,"lo":-0.075,"hi":1},{"phi":"1.5","lvl":1.02,"reg":"50h","T":375,"lo":-0.005,"hi":1},{"phi":"1.5","lvl":1.02,"reg":"50h","T":400,"lo":0.072,"hi":1},{"phi":"1.5","lvl":1.02,"reg":"50h","T":425,"lo":0.125,"hi":1},{"phi":"1.5","lvl":1.02,"reg":"50h","T":450,"lo":0.19,"hi":1},{"phi":"1.5","lvl":1.02,"reg":"50h","T":475,"lo":0.26,"hi":1},{"phi":"1.5","lvl":1.02,"reg":"50h","T":500,"lo":0.337,"hi":1},
{"phi":"1.5","lvl":1.04,"reg":"50i","T":300,"lo":-0.09,"hi":1},{"phi":"1.5","lvl":1.04,"reg":"50i","T":325,"lo":-0.05,"hi":1},{"phi":"1.5","lvl":1.04,"reg":"50i","T":350,"lo":-0.005,"hi":1},{"phi":"1.5","lvl":1.04,"reg":"50i","T":375,"lo":0.06,"hi":1},{"phi":"1.5","lvl":1.04,"reg":"50i","T":400,"lo":0.135,"hi":1},{"phi":"1.5","lvl":1.04,"reg":"50i","T":425,"lo":0.19,"hi":1},{"phi":"1.5","lvl":1.04,"reg":"50i","T":450,"lo":0.26,"hi":1},{"phi":"1.5","lvl":1.04,"reg":"50i","T":475,"lo":0.34,"hi":1},{"phi":"1.5","lvl":1.04,"reg":"50i","T":500,"lo":0.422,"hi":1},
{"phi":"1.5","lvl":1.06,"reg":"50j","T":300,"lo":-0.02,"hi":1},{"phi":"1.5","lvl":1.06,"reg":"50j","T":325,"lo":0.02,"hi":1},{"phi":"1.5","lvl":1.06,"reg":"50j","T":350,"lo":0.06,"hi":1},{"phi":"1.5","lvl":1.06,"reg":"50j","T":375,"lo":0.12,"hi":1},{"phi":"1.5","lvl":1.06,"reg":"50j","T":400,"lo":0.197,"hi":1},{"phi":"1.5","lvl":1.06,"reg":"50j","T":425,"lo":0.255,"hi":1},{"phi":"1.5","lvl":1.06,"reg":"50j","T":450,"lo":0.33,"hi":1},{"phi":"1.5","lvl":1.06,"reg":"50j","T":475,"lo":0.42,"hi":1},{"phi":"1.5","lvl":1.06,"reg":"50j","T":500,"lo":0.507,"hi":1},
{"phi":"1.5","lvl":1.08,"reg":"50k","T":300,"lo":0.05,"hi":1},{"phi":"1.5","lvl":1.08,"reg":"50k","T":325,"lo":0.09,"hi":1},{"phi":"1.5","lvl":1.08,"reg":"50k","T":350,"lo":0.13,"hi":1},{"phi":"1.5","lvl":1.08,"reg":"50k","T":375,"lo":0.19,"hi":1},{"phi":"1.5","lvl":1.08,"reg":"50k","T":400,"lo":0.26,"hi":1},{"phi":"1.5","lvl":1.08,"reg":"50k","T":425,"lo":0.32,"hi":1},{"phi":"1.5","lvl":1.08,"reg":"50k","T":450,"lo":0.4,"hi":1},{"phi":"1.5","lvl":1.08,"reg":"50k","T":475,"lo":0.49,"hi":1},{"phi":"1.5","lvl":1.08,"reg":"50k","T":500,"lo":0.593,"hi":1},
{"phi":"1.5","lvl":1.1,"reg":"50l","T":300,"lo":0.13,"hi":1},{"phi":"1.5","lvl":1.1,"reg":"50l","T":325,"lo":0.17,"hi":1},{"phi":"1.5","lvl":1.1,"reg":"50l","T":350,"lo":0.21,"hi":1},{"phi":"1.5","lvl":1.1,"reg":"50l","T":375,"lo":0.26,"hi":1},{"phi":"1.5","lvl":1.1,"reg":"50l","T":400,"lo":0.32,"hi":1},{"phi":"1.5","lvl":1.1,"reg":"50l","T":425,"lo":0.39,"hi":1},{"phi":"1.5","lvl":1.1,"reg":"50l","T":450,"lo":0.47,"hi":1},{"phi":"1.5","lvl":1.1,"reg":"50l","T":460.9,"lo":0.513,"hi":1},{"phi":"1.5","lvl":1.1,"reg":"50l","T":468,"lo":0.541,"hi":0.988},{"phi":"1.5","lvl":1.1,"reg":"50l","T":475,"lo":0.57,"hi":0.985},{"phi":"1.5","lvl":1.1,"reg":"50l","T":482,"lo":0.6,"hi":0.988},{"phi":"1.5","lvl":1.1,"reg":"50l","T":489.7,"lo":0.638,"hi":1},{"phi":"1.5","lvl":1.1,"reg":"50l","T":500,"lo":0.686,"hi":1},
{"phi":"1.5","lvl":1.12,"reg":"50m","T":300,"lo":0.22,"hi":0.978},{"phi":"1.5","lvl":1.12,"reg":"50m","T":315,"lo":0.238,"hi":0.99},{"phi":"1.5","lvl":1.12,"reg":"50m","T":331,"lo":0.26,"hi":1},{"phi":"1.5","lvl":1.12,"reg":"50m","T":350,"lo":0.29,"hi":1},{"phi":"1.5","lvl":1.12,"reg":"50m","T":375,"lo":0.34,"hi":1},{"phi":"1.5","lvl":1.12,"reg":"50m","T":399.2,"lo":0.391,"hi":1},{"phi":"1.5","lvl":1.12,"reg":"50m","T":419.8,"lo":0.437,"hi":0.942},{"phi":"1.5","lvl":1.12,"reg":"50m","T":436.2,"lo":0.474,"hi":0.888},{"phi":"1.5","lvl":1.12,"reg":"50m","T":446.5,"lo":0.505,"hi":0.869},{"phi":"1.5","lvl":1.12,"reg":"50m","T":460.9,"lo":0.554,"hi":0.865},{"phi":"1.5","lvl":1.12,"reg":"50m","T":477.4,"lo":0.628,"hi":0.872},{"phi":"1.5","lvl":1.12,"reg":"50m","T":491.8,"lo":0.72,"hi":0.896},{"phi":"1.5","lvl":1.12,"reg":"50m","T":500,"lo":0.779,"hi":0.925},
{"phi":"1.5","lvl":1.14,"reg":"50n","T":300,"lo":0.332,"hi":0.86},{"phi":"1.5","lvl":1.14,"reg":"50n","T":316.9,"lo":0.356,"hi":0.87},{"phi":"1.5","lvl":1.14,"reg":"50n","T":335.4,"lo":0.391,"hi":0.868},{"phi":"1.5","lvl":1.14,"reg":"50n","T":356,"lo":0.438,"hi":0.845},{"phi":"1.5","lvl":1.14,"reg":"50n","T":374.5,"lo":0.49,"hi":0.803},{"phi":"1.5","lvl":1.14,"reg":"50n","T":388.9,"lo":0.54,"hi":0.748},{"phi":"1.5","lvl":1.14,"reg":"50n","T":396.1,"lo":0.59,"hi":0.694},{"phi":"1.5","lvl":1.14,"reg":"50n","T":398.1,"lo":0.645,"hi":0.645},
{"phi":"1.5","lvl":1.16,"reg":"50o","T":300,"lo":0.505,"hi":0.675},{"phi":"1.5","lvl":1.16,"reg":"50o","T":310.7,"lo":0.53,"hi":0.678},{"phi":"1.5","lvl":1.16,"reg":"50o","T":320,"lo":0.57,"hi":0.663},{"phi":"1.5","lvl":1.16,"reg":"50o","T":324.5,"lo":0.6,"hi":0.64},{"phi":"1.5","lvl":1.16,"reg":"50o","T":325.5,"lo":0.62,"hi":0.62}
]
},
"concat": [
  {"width": 324, "height": 275,
   "title": {"text": "Phi=0.8", "frame": "group", "anchor": "middle", "offset": 6},
   "data": {"name": "contours"},
   "transform": [{"filter": "datum.phi === '0.8'"}],
   "mark": {"type": "area", "interpolate": "monotone", "stroke": "#1c1c1c", "strokeWidth": 0.6, "strokeOpacity": 0.9, "clip": true},
   "encoding": {
    "x": {"field": "T", "type": "quantitative", "scale": {"domain": [300, 500], "nice": false, "zero": false}, "axis": {"values": [300, 350, 400, 450, 500], "title": "T [K]"}},
    "y": {"field": "lo", "type": "quantitative", "stack": null, "scale": {"domain": [-0.3, 1], "nice": false, "zero": false}, "axis": {"values": [-0.2, 0, 0.2, 0.4, 0.6, 0.8, 1], "format": ".1f", "title": "log₁₀(P)", "titleFontStyle": "italic"}},
    "y2": {"field": "hi"},
    "color": {"field": "lvl", "type": "quantitative", "scale": {"type": "threshold", "domain": [1.06,1.07,1.08,1.09,1.1,1.11,1.12,1.13,1.14,1.15,1.16,1.17,1.18,1.19], "range": ["#0e427a","#2166ac","#3884bb","#5da4cc","#92c5de","#bcdaea","#deebf2","#f7f7f7","#fbe4d7","#fac9b0","#f4a582","#e0775f","#ca4842","#b2182b","#800823"]}, "legend": null},
    "detail": {"field": "reg", "type": "nominal"}
   }},
  {"width": 14, "height": 275,
   "data": {"name": "bands"},
   "transform": [{"filter": "datum.phi === '0.8'"}],
   "mark": {"type": "rect"},
   "encoding": {
    "y": {"field": "lo", "type": "quantitative", "scale": {"domain": [1.05, 1.2], "nice": false, "zero": false}, "axis": {"orient": "right", "values": [1.05,1.07,1.09,1.11,1.13,1.15,1.17,1.19], "format": ".2f", "title": "Uncertainty Reduction Ratio", "titleAngle": 270, "titleBaseline": "top", "tickSize": 4, "labelPadding": 2, "labelFontSize": 12, "titlePadding": 4, "titleFontSize": 12}},
    "y2": {"field": "hi"},
    "color": {"field": "lo", "type": "quantitative", "scale": {"type": "threshold", "domain": [1.06,1.07,1.08,1.09,1.1,1.11,1.12,1.13,1.14,1.15,1.16,1.17,1.18,1.19], "range": ["#0e427a","#2166ac","#3884bb","#5da4cc","#92c5de","#bcdaea","#deebf2","#f7f7f7","#fbe4d7","#fac9b0","#f4a582","#e0775f","#ca4842","#b2182b","#800823"]}, "legend": null}
   }},
  {"width": 96, "height": 275, "data": {"values": []}, "mark": "point", "view": {"stroke": null}},
  {"width": 322, "height": 275,
   "title": {"text": "Phi=1.1", "frame": "group", "anchor": "middle", "offset": 6},
   "data": {"name": "contours"},
   "transform": [{"filter": "datum.phi === '1.1'"}],
   "mark": {"type": "area", "interpolate": "monotone", "stroke": "#1c1c1c", "strokeWidth": 0.6, "strokeOpacity": 0.9, "clip": true},
   "encoding": {
    "x": {"field": "T", "type": "quantitative", "scale": {"domain": [300, 500], "nice": false, "zero": false}, "axis": {"values": [300, 350, 400, 450, 500], "title": "T [K]"}},
    "y": {"field": "lo", "type": "quantitative", "stack": null, "scale": {"domain": [-0.3, 1], "nice": false, "zero": false}, "axis": {"values": [-0.2, 0, 0.2, 0.4, 0.6, 0.8, 1], "format": ".1f", "title": "log₁₀(P)", "titleFontStyle": "italic"}},
    "y2": {"field": "hi"},
    "color": {"field": "lvl", "type": "quantitative", "scale": {"type": "threshold", "domain": [0.81,0.825,0.84,0.855,0.87,0.885,0.9,0.915,0.93,0.945,0.96,0.975,0.99,1.005,1.02], "range": ["#0e4178","#1f63a7","#347fb9","#529cc8","#83bcd9","#aed3e6","#d3e6f0","#ebf1f5","#f9eee8","#fdddca","#f8bda0","#ee9878","#dc6d57","#c6403e","#ad162a","#7e0823"]}, "legend": null},
    "detail": {"field": "reg", "type": "nominal"}
   }},
  {"width": 14, "height": 275,
   "data": {"name": "bands"},
   "transform": [{"filter": "datum.phi === '1.1'"}],
   "mark": {"type": "rect"},
   "encoding": {
    "y": {"field": "lo", "type": "quantitative", "scale": {"domain": [0.795, 1.035], "nice": false, "zero": false}, "axis": {"orient": "right", "values": [0.795,0.825,0.855,0.885,0.915,0.945,0.975,1.005,1.035], "format": ".3f", "title": "Uncertainty Reduction Ratio", "titleAngle": 270, "titleBaseline": "top", "tickSize": 4, "labelPadding": 2, "labelFontSize": 12, "titlePadding": 4, "titleFontSize": 12}},
    "y2": {"field": "hi"},
    "color": {"field": "lo", "type": "quantitative", "scale": {"type": "threshold", "domain": [0.81,0.825,0.84,0.855,0.87,0.885,0.9,0.915,0.93,0.945,0.96,0.975,0.99,1.005,1.02], "range": ["#0e4178","#1f63a7","#347fb9","#529cc8","#83bcd9","#aed3e6","#d3e6f0","#ebf1f5","#f9eee8","#fdddca","#f8bda0","#ee9878","#dc6d57","#c6403e","#ad162a","#7e0823"]}, "legend": null}
   }},
  {"width": 324, "height": 279,
   "title": {"text": "Phi=1.48", "frame": "group", "anchor": "middle", "offset": 6},
   "data": {"name": "contours"},
   "transform": [{"filter": "datum.phi === '1.48'"}],
   "mark": {"type": "area", "interpolate": "monotone", "stroke": "#1c1c1c", "strokeWidth": 0.6, "strokeOpacity": 0.9, "clip": true},
   "encoding": {
    "x": {"field": "T", "type": "quantitative", "scale": {"domain": [300, 500], "nice": false, "zero": false}, "axis": {"values": [300, 350, 400, 450, 500], "title": "T [K]"}},
    "y": {"field": "lo", "type": "quantitative", "stack": null, "scale": {"domain": [-0.3, 1], "nice": false, "zero": false}, "axis": {"values": [-0.2, 0, 0.2, 0.4, 0.6, 0.8, 1], "format": ".1f", "title": "log₁₀(P)", "titleFontStyle": "italic"}},
    "y2": {"field": "hi"},
    "color": {"field": "lvl", "type": "quantitative", "scale": {"type": "threshold", "domain": [0.88,0.9,0.92,0.94,0.96,0.98,1,1.02,1.04,1.06,1.08,1.1,1.12,1.14,1.16], "range": ["#0e4178","#1f63a7","#347fb9","#529cc8","#83bcd9","#aed3e6","#d3e6f0","#ebf1f5","#f9eee8","#fdddca","#f8bda0","#ee9878","#dc6d57","#c6403e","#ad162a","#7e0823"]}, "legend": null},
    "detail": {"field": "reg", "type": "nominal"}
   }},
  {"width": 14, "height": 279,
   "data": {"name": "bands"},
   "transform": [{"filter": "datum.phi === '1.48'"}],
   "mark": {"type": "rect"},
   "encoding": {
    "y": {"field": "lo", "type": "quantitative", "scale": {"domain": [0.86, 1.18], "nice": false, "zero": false}, "axis": {"orient": "right", "values": [0.86,0.9,0.94,0.98,1.02,1.06,1.1,1.14,1.18], "format": ".2f", "title": "Uncertainty Reduction Ratio", "titleAngle": 270, "titleBaseline": "top", "tickSize": 4, "labelPadding": 2, "labelFontSize": 12, "titlePadding": 4, "titleFontSize": 12}},
    "y2": {"field": "hi"},
    "color": {"field": "lo", "type": "quantitative", "scale": {"type": "threshold", "domain": [0.88,0.9,0.92,0.94,0.96,0.98,1,1.02,1.04,1.06,1.08,1.1,1.12,1.14,1.16], "range": ["#0e4178","#1f63a7","#347fb9","#529cc8","#83bcd9","#aed3e6","#d3e6f0","#ebf1f5","#f9eee8","#fdddca","#f8bda0","#ee9878","#dc6d57","#c6403e","#ad162a","#7e0823"]}, "legend": null}
   }},
  {"width": 96, "height": 279, "data": {"values": []}, "mark": "point", "view": {"stroke": null}},
  {"width": 322, "height": 279,
   "title": {"text": "Phi=1.5", "frame": "group", "anchor": "middle", "offset": 6},
   "data": {"name": "contours"},
   "transform": [{"filter": "datum.phi === '1.5'"}],
   "mark": {"type": "area", "interpolate": "monotone", "stroke": "#1c1c1c", "strokeWidth": 0.6, "strokeOpacity": 0.9, "clip": true},
   "encoding": {
    "x": {"field": "T", "type": "quantitative", "scale": {"domain": [300, 500], "nice": false, "zero": false}, "axis": {"values": [300, 350, 400, 450, 500], "title": "T [K]"}},
    "y": {"field": "lo", "type": "quantitative", "stack": null, "scale": {"domain": [-0.3, 1], "nice": false, "zero": false}, "axis": {"values": [-0.2, 0, 0.2, 0.4, 0.6, 0.8, 1], "format": ".1f", "title": "log₁₀(P)", "titleFontStyle": "italic"}},
    "y2": {"field": "hi"},
    "color": {"field": "lvl", "type": "quantitative", "scale": {"type": "threshold", "domain": [0.9,0.92,0.94,0.96,0.98,1,1.02,1.04,1.06,1.08,1.1,1.12,1.14,1.16], "range": ["#0e427a","#2166ac","#3884bb","#5da4cc","#92c5de","#bcdaea","#deebf2","#f7f7f7","#fbe4d7","#fac9b0","#f4a582","#e0775f","#ca4842","#b2182b","#800823"]}, "legend": null},
    "detail": {"field": "reg", "type": "nominal"}
   }},
  {"width": 14, "height": 279,
   "data": {"name": "bands"},
   "transform": [{"filter": "datum.phi === '1.5'"}],
   "mark": {"type": "rect"},
   "encoding": {
    "y": {"field": "lo", "type": "quantitative", "scale": {"domain": [0.88, 1.18], "nice": false, "zero": false}, "axis": {"orient": "right", "values": [0.88,0.92,0.96,1,1.04,1.08,1.12,1.16], "format": ".2f", "title": "Uncertainty Reduction Ratio", "titleAngle": 270, "titleBaseline": "top", "tickSize": 4, "labelPadding": 2, "labelFontSize": 12, "titlePadding": 4, "titleFontSize": 12}},
    "y2": {"field": "hi"},
    "color": {"field": "lo", "type": "quantitative", "scale": {"type": "threshold", "domain": [0.9,0.92,0.94,0.96,0.98,1,1.02,1.04,1.06,1.08,1.1,1.12,1.14,1.16], "range": ["#0e427a","#2166ac","#3884bb","#5da4cc","#92c5de","#bcdaea","#deebf2","#f7f7f7","#fbe4d7","#fac9b0","#f4a582","#e0775f","#ca4842","#b2182b","#800823"]}, "legend": null}
   }}
],
"columns": 5,
"spacing": {"row": 90, "column": 4},
"bounds": "flush",
"resolve": {"scale": {"color": "independent"}}
}
